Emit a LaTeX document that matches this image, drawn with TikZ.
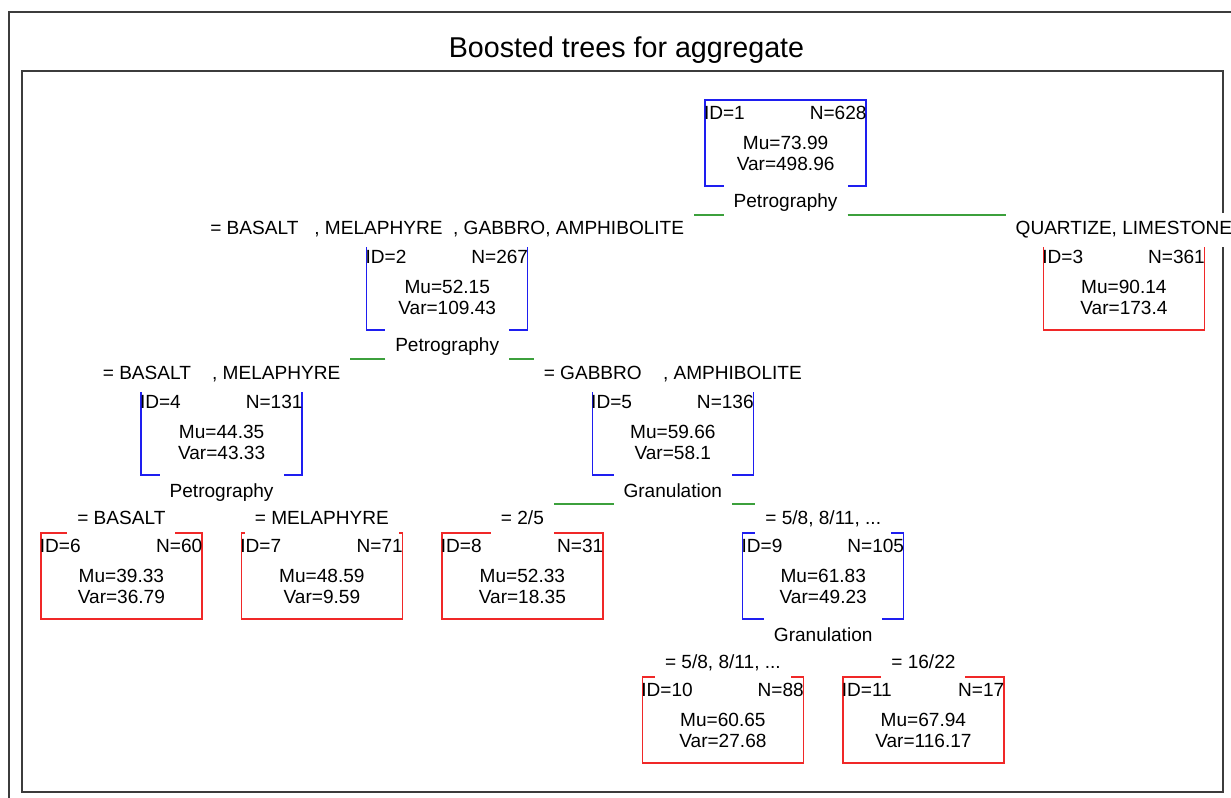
\documentclass[tikz,border=0pt]{standalone}
\usepackage{fontspec}
\setmainfont{Liberation Sans}
\usetikzlibrary{positioning}
\definecolor{nodeblue}{RGB}{30,30,240}
\definecolor{leafred}{RGB}{240,40,40}
\definecolor{splitgreen}{RGB}{60,160,60}
\definecolor{framegray}{RGB}{60,60,60}

\begin{document}
\begin{tikzpicture}[
  x=0.75pt, y=-0.75pt,
  font=\fontsize{14.3pt}{15.75pt}\selectfont,
  box/.style={draw, line width=1pt, minimum width=120.75pt, minimum height=64.5pt, inner sep=0pt, outer sep=0pt},
  innode/.style={box, draw=nodeblue},
  leafnode/.style={box, draw=leafred},
  idlbl/.style={anchor=north west, inner sep=0pt, text height=10.5pt, xshift=-1pt, yshift=-3.6pt},
  nlbl/.style={anchor=north east, inner sep=0pt, text height=10.5pt, xshift=0.5pt, yshift=-3.6pt},
  stat/.style={anchor=south, inner sep=0pt, align=center, yshift=11pt},
  condlbl/.style={fill=white, inner xsep=7.5pt, inner ysep=0pt, outer sep=0pt, minimum height=26pt, text height=10.5pt, text depth=3pt},
  splitlbl/.style={condlbl, minimum height=30pt},
  branchline/.style={draw=splitgreen, line width=1.2pt},
  plotframe/.style={draw=framegray, line width=1.5pt}
]
\useasboundingbox (0,0) rectangle (1231,798);
\draw[plotframe] (9,798) -- (9,12) -- (1231,12);
\draw[plotframe] (22,71) rectangle (1223,792);
\node[font=\fontsize{21.5pt}{24pt}\selectfont] (title) at (626.5,50) {Boosted trees for aggregate};

\node[innode, label={[idlbl]north west:ID=1}, label={[nlbl]north east:N=628}, label={[stat]south:Mu=73.99\\Var=498.96}] (n1) at (785.6,143) {};
\node[innode, label={[idlbl]north west:ID=2}, label={[nlbl]north east:N=267}, label={[stat]south:Mu=52.15\\Var=109.43}] (n2) at (447.2,287) {};
\node[leafnode, label={[idlbl]north west:ID=3}, label={[nlbl]north east:N=361}, label={[stat]south:Mu=90.14\\Var=173.4}] (n3) at (1123.9,287) {};
\node[innode, label={[idlbl]north west:ID=4}, label={[nlbl]north east:N=131}, label={[stat]south:Mu=44.35\\Var=43.33}] (n4) at (221.6,432) {};
\node[innode, label={[idlbl]north west:ID=5}, label={[nlbl]north east:N=136}, label={[stat]south:Mu=59.66\\Var=58.1}] (n5) at (672.8,432) {};
\node[leafnode, label={[idlbl]north west:ID=6}, label={[nlbl]north east:N=60}, label={[stat]south:Mu=39.33\\Var=36.79}] (n6) at (121.4,576) {};
\node[leafnode, label={[idlbl]north west:ID=7}, label={[nlbl]north east:N=71}, label={[stat]south:Mu=48.59\\Var=9.59}] (n7) at (321.9,576) {};
\node[leafnode, label={[idlbl]north west:ID=8}, label={[nlbl]north east:N=31}, label={[stat]south:Mu=52.33\\Var=18.35}] (n8) at (522.4,576) {};
\node[innode, label={[idlbl]north west:ID=9}, label={[nlbl]north east:N=105}, label={[stat]south:Mu=61.83\\Var=49.23}] (n9) at (823.2,576) {};
\node[leafnode, label={[idlbl]north west:ID=10}, label={[nlbl]north east:N=88}, label={[stat]south:Mu=60.65\\Var=27.68}] (n10) at (722.9,720) {};
\node[leafnode, label={[idlbl]north west:ID=11}, label={[nlbl]north east:N=17}, label={[stat]south:Mu=67.94\\Var=116.17}] (n11) at (923.4,720) {};

\node[splitlbl, below=-2.25pt of n1] (s1) {Petrography};
\node[splitlbl, below=-2.25pt of n2] (s2) {Petrography};
\node[splitlbl, below=-2.25pt of n4] (s4) {Petrography};
\node[splitlbl, below=-2.25pt of n5] (s5) {Granulation};
\node[splitlbl, below=-2.25pt of n9] (s9) {Granulation};

\node[condlbl, above=-2.5pt of n2] (c2) {= BASALT\ \ \ , MELAPHYRE\ \ , GABBRO, AMPHIBOLITE};
\node[condlbl, above=-2.5pt of n3] (c3) {QUARTIZE, LIMESTONE};
\node[condlbl, above=-2.5pt of n4] (c4) {= BASALT\ \ \ \ , MELAPHYRE};
\node[condlbl, above=-2.5pt of n5] (c5) {= GABBRO\ \ \ \ , AMPHIBOLITE};
\node[condlbl, above=-2.5pt of n6] (c6) {= BASALT};
\node[condlbl, above=-2.5pt of n7] (c7) {= MELAPHYRE};
\node[condlbl, above=-2.5pt of n8] (c8) {= 2/5};
\node[condlbl, above=-2.5pt of n9] (c9) {= 5/8, 8/11, ...};
\node[condlbl, above=-2.5pt of n10] (c10) {= 5/8, 8/11, ...};
\node[condlbl, above=-2.5pt of n11] (c11) {= 16/22};

\draw[branchline] ([yshift=-9pt]s1.west) -- ([yshift=-9pt]s1.west -| c2.east);
\draw[branchline] ([yshift=-9pt]s1.east) -- ([yshift=-9pt]s1.east -| c3.west);
\draw[branchline] ([yshift=-9pt]s2.west) -- ([yshift=-9pt]s2.west -| c4.east);
\draw[branchline] ([yshift=-9pt]s2.east) -- ([yshift=-9pt]s2.east -| c5.west);
\draw[branchline] ([yshift=-9pt]s5.west) -- ([yshift=-9pt]s5.west -| c8.east);
\draw[branchline] ([yshift=-9pt]s5.east) -- ([yshift=-9pt]s5.east -| c9.west);
\end{tikzpicture}
\end{document}
